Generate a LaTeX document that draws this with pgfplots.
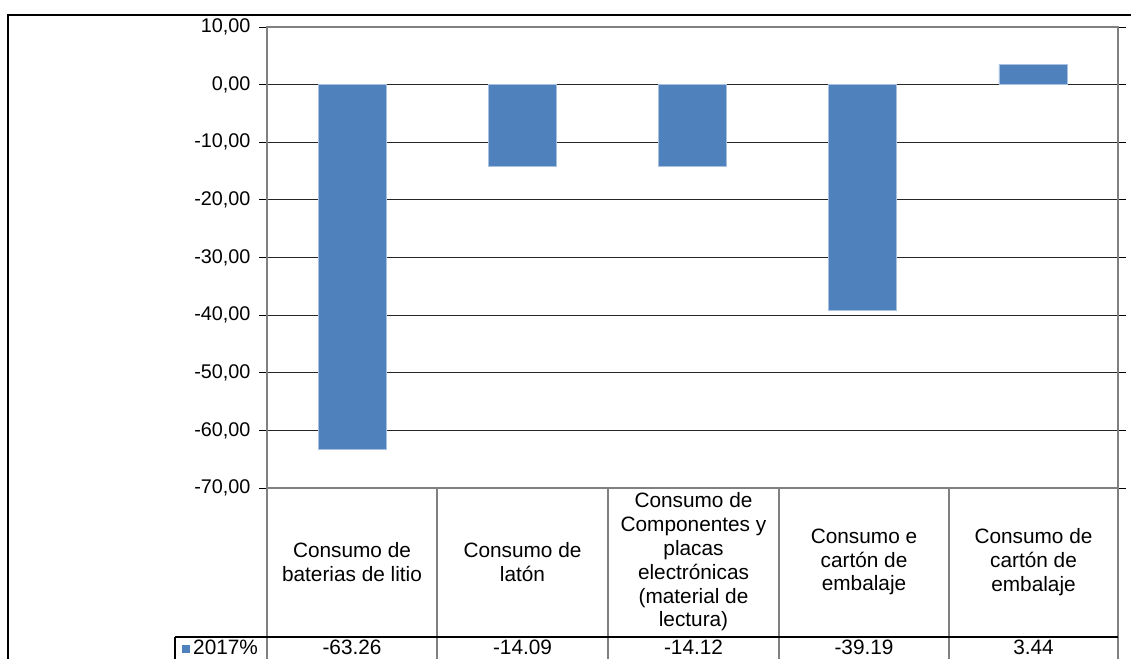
\documentclass[border=0pt]{standalone}
\usepackage{fontspec}
\setmainfont{Liberation Sans}
\usepackage{pgfplots}
\pgfplotsset{compat=1.18}
\definecolor{barblue}{HTML}{4F81BD}
\definecolor{baredge}{HTML}{A9C1E0}
\definecolor{frame}{HTML}{808080}
\begin{document}
\begin{tikzpicture}[x=1bp,y=1bp]
\useasboundingbox (0,0) rectangle (1131,659);
% outer chart border
\draw[black, line width=1.2bp] (8,0) -- (8,644) -- (1131,644);
\begin{axis}[
  at={(267bp,171bp)}, anchor=south west,
  scale only axis, width=851bp, height=461bp,
  ybar, bar width=68bp, bar shift=0pt,
  xmin=-0.5, xmax=4.5, ymin=-70, ymax=10,
  ytick={-70,-60,-50,-40,-30,-20,-10,0,10},
  xtick=\empty,
  ymajorgrids, grid style={black!85, line width=0.9bp},
  axis line style={frame, line width=1.5bp},
  y tick style={black, line width=0.9bp},
  tick align=outside, major tick length=8bp,
  yticklabel style={font=\fontsize{19.8bp}{23bp}\selectfont, xshift=-5bp},
  y tick label style={/pgf/number format/fixed, /pgf/number format/fixed zerofill, /pgf/number format/precision=2, /pgf/number format/use comma, /pgf/number format/assume math mode=true},
]
\addplot[fill=barblue, draw=baredge, line width=0.6bp] coordinates {(0,-63.26) (1,-14.09) (2,-14.12) (3,-39.19) (4,3.44)};
\end{axis}
% data table
\foreach \xx in {267,1118} {\draw[frame, line width=1.5bp] (\xx,0) -- (\xx,171);}
\foreach \xx in {437,608,779,949} {\draw[frame, line width=1.2bp] (\xx,0) -- (\xx,171);}
\draw[black, line width=1.2bp] (175,22) -- (1118,22);
\draw[black, line width=1.2bp] (175,0) -- (175,22);
\begin{scope}[every node/.style={font=\fontsize{20.8bp}{23.8bp}\selectfont, align=center, inner sep=0pt}]
\node at (352,97) {Consumo de\\baterias de litio};
\node at (522.5,97) {Consumo de\\latón};
\node at (693.5,97) {Consumo de\\Componentes y\\placas\\electrónicas\\(material de\\lectura)};
\node at (864,97) {Consumo e\\cartón de\\embalaje};
\node at (1033.5,97) {Consumo de\\cartón de\\embalaje};
\node[anchor=base] at (352,4) {-63.26};
\node[anchor=base] at (522.5,4) {-14.09};
\node[anchor=base] at (693.5,4) {-14.12};
\node[anchor=base] at (864,4) {-39.19};
\node[anchor=base] at (1033.5,4) {3.44};
\node[anchor=base west] at (193,4) {2017\%};
\end{scope}
\fill[barblue] (182,6) rectangle (190,14);
\end{tikzpicture}
\end{document}
